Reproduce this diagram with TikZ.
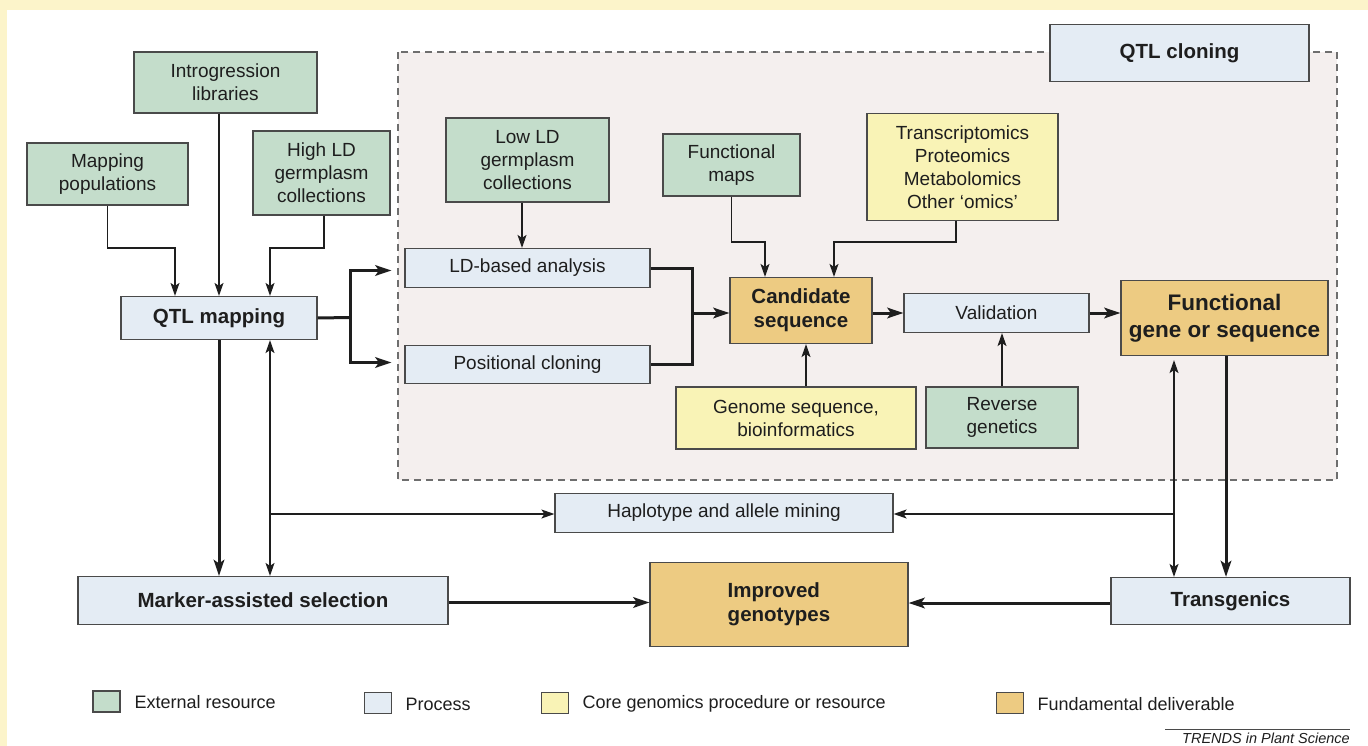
\documentclass[tikz,border=0pt]{standalone}
\usepackage{fontspec}
\setmainfont{Liberation Sans}
\usetikzlibrary{arrows.meta,calc}
\definecolor{cream}{HTML}{FCF4CA}
\definecolor{gfill}{HTML}{C4DDCB}
\definecolor{bfill}{HTML}{E4ECF4}
\definecolor{yfill}{HTML}{F9F3B6}
\definecolor{ofill}{HTML}{EDCB82}
\definecolor{pfill}{HTML}{F4EFEE}
\definecolor{edge}{HTML}{4A4A4A}
\definecolor{ink}{HTML}{1E1E1E}
\begin{document}
\begin{tikzpicture}[x=1pt,y=-1pt,
  font=\fontsize{19}{23}\selectfont,
  box/.style={draw=edge, line width=1.2pt, inner sep=0pt, align=center, text=ink},
  ext/.style={box, fill=gfill},
  proc/.style={box, fill=bfill},
  core/.style={box, fill=yfill},
  deliv/.style={box, fill=ofill, font=\fontsize{20.5}{24}\selectfont\bfseries},
  bold/.style={font=\fontsize{20.5}{24}\selectfont\bfseries},
  thinarr/.style={draw=ink, line width=1.4pt, -{Stealth[length=13pt,width=9pt,inset=3pt]}},
  thinboth/.style={draw=ink, line width=1.4pt, {Stealth[length=13pt,width=9pt,inset=3pt]}-{Stealth[length=13pt,width=9pt,inset=3pt]}},
  thickarr/.style={draw=ink, line width=3pt, line join=miter, -{Stealth[length=16pt,width=10.5pt,inset=3.5pt]}},
  thickline/.style={draw=ink, line width=3pt, line join=miter},
  legsq/.style={draw=edge, line width=1.2pt, minimum width=27pt, minimum height=21pt, inner sep=0pt},
  legtxt/.style={anchor=west, text=ink, font=\fontsize{18}{22}\selectfont},
]
\useasboundingbox (0,0) rectangle (1368,746);
\fill[cream] (0,0) rectangle (1368,746);
\fill[white] (7,10) rectangle (1368,746);

% QTL cloning region
\draw[fill=pfill, draw=edge!80, line width=1.2pt, dash pattern=on 7pt off 5pt] (398,52) rectangle (1337,480);

% nodes
\node[ext, minimum width=183pt, minimum height=61pt] (intro) at (225.5,82.5) {Introgression\\libraries};
\node[ext, minimum width=161pt, minimum height=62pt] (mappop) at (107.5,174) {Mapping\\populations};
\node[ext, minimum width=137pt, minimum height=84pt] (highld) at (321.5,173) {High LD\\germplasm\\collections};
\node[proc, bold, minimum width=196pt, minimum height=43pt] (qtlmap) at (219,318) {QTL mapping};
\node[proc, bold, minimum width=259pt, minimum height=57pt] (qtlclon) at (1179.5,53) {QTL cloning};
\node[ext, minimum width=163pt, minimum height=84pt] (lowld) at (527.5,160) {Low LD\\germplasm\\collections};
\node[proc, minimum width=245pt, minimum height=39pt] (ldbased) at (527.5,268) {LD-based analysis};
\node[proc, minimum width=245pt, minimum height=38pt] (poscl) at (527.5,364.5) {Positional cloning};
\node[deliv, minimum width=142pt, minimum height=66pt] (cand) at (801,310.5) {Candidate\\sequence};
\node[ext, minimum width=137pt, minimum height=62pt] (funmaps) at (731.5,165) {Functional\\maps};
\node[core, minimum width=191pt, minimum height=107pt] (omics) at (962.5,167) {Transcriptomics\\Proteomics\\Metabolomics\\Other ‘omics’};
\node[core, minimum width=240pt, minimum height=62pt] (genome) at (796,418) {Genome sequence,\\bioinformatics};
\node[proc, minimum width=185pt, minimum height=39pt] (valid) at (996.5,313) {Validation};
\node[ext, minimum width=152pt, minimum height=61pt] (revgen) at (1002,417.5) {Reverse\\genetics};
\node[deliv, font=\fontsize{22.5}{27}\selectfont\bfseries, minimum width=207pt, minimum height=75pt] (fungene) at (1224.5,318) {Functional\\gene or sequence};
\node[proc, minimum width=338pt, minimum height=39pt] (haplo) at (724,513) {Haplotype and allele mining};
\node[proc, bold, minimum width=370pt, minimum height=48pt] (mas) at (263,600.5) {Marker-assisted selection};
\node[deliv, minimum width=258pt, minimum height=84pt] (improved) at (779,604.5) {\begin{tabular}{@{}l@{}}Improved\\genotypes\end{tabular}};
\node[proc, bold, minimum width=239pt, minimum height=47pt] (transg) at (1230.5,601) {Transgenics};

% inputs to QTL mapping
\draw[thinarr] (mappop.south) -- (mappop.south |- 0,248) -| ([xshift=-44pt]qtlmap.north);
\draw[thinarr] (qtlmap.north |- intro.south) -- (qtlmap.north);
\draw[thinarr] ([xshift=2.5pt]highld.south) -- ([xshift=2.5pt]highld.south |- 0,248) -| ([xshift=51pt]qtlmap.north);

% QTL mapping to branches
\coordinate (br) at (350,317.5);
\draw[thickline] (qtlmap.east) -- (br);
\draw[thickarr] (br) |- ([xshift=-13pt,yshift=-2.5pt]ldbased.west);
\draw[thickarr] (br) |- ([xshift=-13pt,yshift=2pt]poscl.west);

% low LD
\draw[thinarr] ([xshift=-5.5pt]lowld.south) -- ([xshift=-5.5pt]lowld.south |- ldbased.north);

% merge to candidate
\coordinate (mrg) at (692,313);
\draw[thickline] (ldbased.east) -| (mrg) |- (poscl.east);
\draw[thickarr] (mrg) -- (cand.west |- mrg);

% into candidate
\draw[thinarr] (funmaps.south) -- (funmaps.south |- 0,242) -| ([xshift=-36pt]cand.north);
\draw[thinarr] ([xshift=-6.5pt]omics.south) -- ([xshift=-6.5pt]omics.south |- 0,242) -| ([xshift=33pt]cand.north);
\draw[thinarr] ([xshift=5pt]cand.south |- genome.north) -- ([xshift=5pt]cand.south);

% candidate -> validation -> functional gene
\draw[thickarr] (cand.east |- mrg) -- (valid.west |- mrg);
\draw[thinarr] (revgen.north) -- (revgen.north |- valid.south);
\draw[thickarr] (valid.east |- mrg) -- (fungene.west |- mrg);

% lower right
\coordinate (rj) at (1174,514);
\draw[thinboth] ([yshift=-4pt]fungene.south -| rj) -- (transg.north -| rj);
\draw[thinarr] (rj) -- (haplo.east |- rj);
\draw[thickarr] ([xshift=1.5pt]fungene.south) -- ([xshift=1.5pt]fungene.south |- transg.north);

% lower left
\coordinate (lj) at (270,514);
\draw[thickarr] (qtlmap.south) -- (qtlmap.south |- mas.north);
\draw[thinboth] (qtlmap.south -| lj) -- (mas.north -| lj);
\draw[thinarr] (lj) -- (haplo.west |- lj);

% to improved genotypes
\draw[thickarr] ([yshift=-2pt]mas.east) -- ([yshift=-2pt]mas.east -| improved.west);
\draw[thickarr] ([yshift=-2pt]transg.west) -- ([yshift=-2pt]transg.west -| improved.east);

% legend
\node[legsq, fill=gfill] (lg1) at (106.5,701.5) {};
\node[legtxt] (lt1) at (131,702) {External resource};
\node[legsq, fill=bfill] (lg2) at (378,703) {};
\node[legtxt] (lt2) at (402,704) {Process};
\node[legsq, fill=yfill] (lg3) at (555,703) {};
\node[legtxt] (lt3) at (579,704) {Core genomics procedure or resource};
\node[legsq, fill=ofill] (lg4) at (1010,703) {};
\node[legtxt] (lt4) at (1034,704) {Fundamental deliverable};

% credit
\draw[edge, line width=0.8pt] (1165,729) -- (1350,729);
\node[anchor=east, text=ink, font=\fontsize{14.5}{17}\selectfont\itshape, inner sep=0pt] (credit) at (1350,738) {TRENDS in Plant Science};
\end{tikzpicture}
\end{document}
